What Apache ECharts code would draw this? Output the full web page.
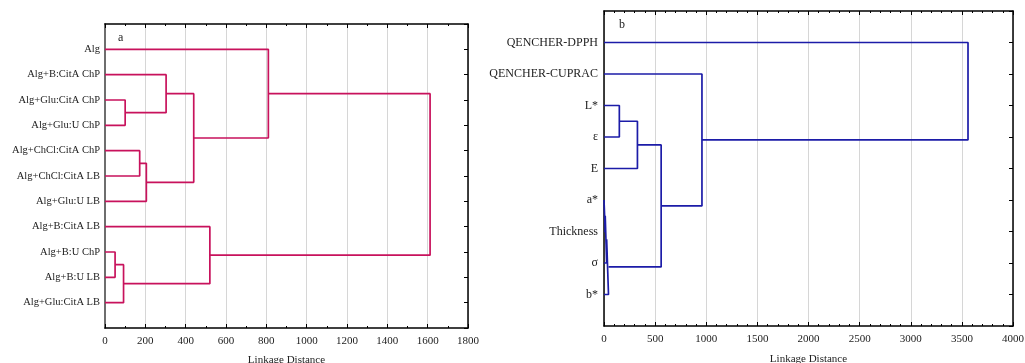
<!DOCTYPE html>
<html><head><meta charset="utf-8">
<script src="https://cdn.jsdelivr.net/npm/echarts@6/dist/echarts.min.js"></script>
<style>html,body{margin:0;padding:0;background:#fff}#c{width:1025px;height:363px}</style>
</head><body><div id="c"></div>
<script>
// Panel a: leaves top-to-bottom, merges (child ids; leaves 0..10, clusters 11+), merge heights
const leavesA = ['Alg','Alg+B:CitA ChP','Alg+Glu:CitA ChP','Alg+Glu:U ChP','Alg+ChCl:CitA ChP','Alg+ChCl:CitA LB','Alg+Glu:U LB','Alg+B:CitA LB','Alg+B:U ChP','Alg+B:U LB','Alg+Glu:CitA LB'];
const mergeChildA = [[2,3],[1,11],[4,5],[13,6],[12,14],[0,15],[8,9],[17,10],[7,18],[16,19]];
const mergeHeightA = [100,303,172,205,440,810,50,92,520,1612];
const xTicksA = [0,1800,200];

// Panel b
const leavesB = ['QENCHER-DPPH','QENCHER-CUPRAC','L*','ε','E','a*','Thickness','σ','b*'];
const mergeChildB = [[2,3],[9,4],[5,6],[11,7],[12,8],[10,13],[1,14],[0,15]];
const mergeHeightB = [150,327,12,26,44,559,958,3560];
const xTicksB = [0,4000,500];

const FONT = '"Liberation Serif", "DejaVu Serif", serif';

function buildSeries(leaves, children, heights, xIdx, yIdx, color){
  const n = leaves.length;
  const pos = leaves.map((_, i) => i + 1);
  const h = leaves.map(() => 0);
  const out = [];
  children.forEach((c, k) => {
    const a = c[0], b = c[1], H = heights[k];
    out.push({
      type:'line', xAxisIndex:xIdx, yAxisIndex:yIdx, silent:true, symbol:'none',
      animation:false, lineStyle:{color:color, width:1.7},
      data:[[h[a],pos[a]],[H,pos[a]],[H,pos[b]],[h[b],pos[b]]]
    });
    pos[n + k] = (pos[a] + pos[b]) / 2;
    h[n + k] = H;
  });
  return out;
}

function xAxes(grid, t, nameGap, minorSplit){
  const base = {gridIndex:grid, type:'value', min:t[0], max:t[1], interval:t[2]};
  return [
    Object.assign({}, base, {
      position:'bottom', name:'Linkage Distance', nameLocation:'middle', nameGap:nameGap,
      nameTextStyle:{fontFamily:FONT, fontSize:11, color:'#222'},
      axisLine:{onZero:false, lineStyle:{color:'#000', width:1.5}},
      axisTick:{inside:true, length:4, lineStyle:{color:'#000'}},
      minorTick:{show:true, splitNumber:minorSplit, length:2, lineStyle:{color:'#000'}},
      axisLabel:{fontFamily:FONT, fontSize:11, color:'#222', margin:8, formatter: v => String(v)},
      splitLine:{show:true, lineStyle:{color:'#d6d6d6', width:1}}
    }),
    Object.assign({}, base, {
      position:'top',
      axisLine:{onZero:false, lineStyle:{color:'#000', width:1.5}},
      axisTick:{inside:true, length:4, lineStyle:{color:'#000'}},
      minorTick:{show:true, splitNumber:minorSplit, length:2, lineStyle:{color:'#000'}},
      axisLabel:{show:false}, splitLine:{show:false}
    })
  ];
}

function yAxes(grid, leaves, leftColor, leftWidth, margin, fontSize){
  const base = {gridIndex:grid, type:'value', min:0, max:leaves.length + 1, interval:1, inverse:true, splitLine:{show:false}};
  return [
    Object.assign({}, base, {
      position:'left',
      axisLine:{onZero:false, lineStyle:{color:leftColor, width:leftWidth}},
      axisTick:{show:false},
      axisLabel:{fontFamily:FONT, fontSize:fontSize, color:'#222', margin:margin,
        formatter: v => (v >= 1 && v <= leaves.length) ? leaves[v - 1] : ''}
    }),
    Object.assign({}, base, {
      position:'right',
      axisLine:{onZero:false, lineStyle:{color:'#000', width:1.5}},
      axisTick:{inside:true, length:4, lineStyle:{color:'#000'}},
      axisLabel:{show:false}
    })
  ];
}

const chart = echarts.init(document.getElementById('c'), null, {renderer:'canvas'});
chart.setOption({
  animation:false,
  backgroundColor:'#fff',
  title:[
    {text:'a', left:113, top:27, textStyle:{fontFamily:FONT, fontSize:12, fontWeight:'normal', color:'#222'}},
    {text:'b', left:614, top:14, textStyle:{fontFamily:FONT, fontSize:12, fontWeight:'normal', color:'#222'}}
  ],
  grid:[
    {left:105, top:24, width:363, height:304, containLabel:false, outerBoundsMode:'none'},
    {left:604, top:11, width:409, height:315, containLabel:false, outerBoundsMode:'none'}
  ],
  xAxis: xAxes(0, xTicksA, 27, 2).concat(xAxes(1, xTicksB, 28, 5)),
  yAxis: yAxes(0, leavesA, '#6e6e6e', 2, 5, 10.5).concat(yAxes(1, leavesB, '#000', 1.5, 6, 12)),
  series: buildSeries(leavesA, mergeChildA, mergeHeightA, 0, 0, '#c8125c')
    .concat(buildSeries(leavesB, mergeChildB, mergeHeightB, 2, 2, '#1c1ca8'))
});
</script>
</body></html>
